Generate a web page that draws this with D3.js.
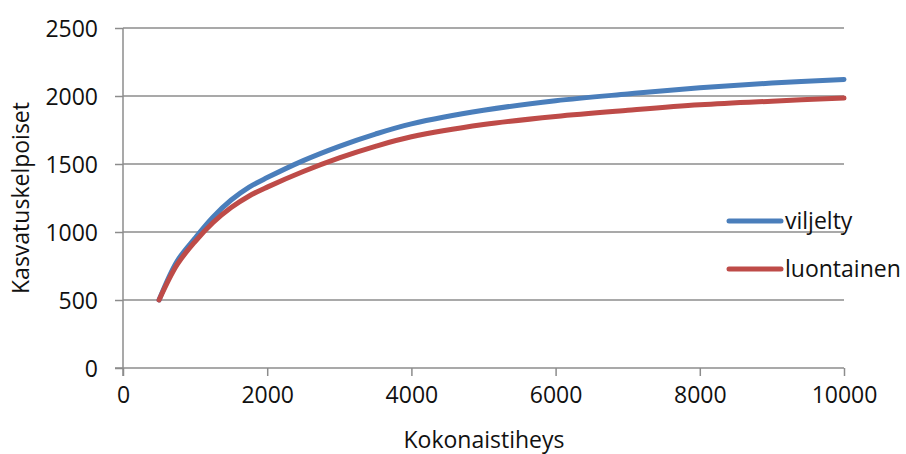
<!DOCTYPE html>
<html><head><meta charset="utf-8">
<script src="https://cdn.jsdelivr.net/npm/d3@7"></script>
<style>
html,body{margin:0;padding:0;background:#fff;}
text{font-family:"Open Sans","Noto Sans",sans-serif;fill:#111;}
</style></head>
<body><svg id="c" width="906" height="454"></svg>
<script>
const xValues = [500, 750, 1000, 1250, 1500, 1750, 2000, 2500, 3000, 3500, 4000, 5000, 6000, 7000, 8000, 9000, 10000];
const viljelty = [500, 785, 955, 1110, 1235, 1330, 1400, 1525, 1630, 1720, 1795, 1895, 1965, 2015, 2060, 2095, 2122];
const luontainen = [500, 760, 930, 1070, 1180, 1265, 1330, 1445, 1545, 1630, 1700, 1790, 1850, 1895, 1935, 1962, 1985];
const seriesNames = ["viljelty", "luontainen"];
const seriesColors = ["#4A7EBB", "#BE4B48"];
const xTicks = [0, 2000, 4000, 6000, 8000, 10000];
const yTicks = [0, 500, 1000, 1500, 2000, 2500];
const xTitle = "Kokonaistiheys";
const yTitle = "Kasvatuskelpoiset";

const svg = d3.select("#c");
const x = d3.scaleLinear().domain([0, 10000]).range([123, 844]);
const y = d3.scaleLinear().domain([0, 2500]).range([368, 28]);
const grid = "#8c8c8c";

// gridlines
svg.append("g").selectAll("line").data(yTicks.filter(d => d > 0)).join("line")
  .attr("x1", x(0)).attr("x2", x(10000))
  .attr("y1", d => y(d)).attr("y2", d => y(d))
  .attr("stroke", grid).attr("stroke-width", 1.5);

// y axis
const yAxis = svg.append("g").attr("transform", `translate(${x(0)},0)`)
  .call(d3.axisLeft(y).tickValues(yTicks).tickSize(8).tickPadding(17).tickFormat(d3.format("d")));
yAxis.select(".domain").attr("stroke", grid).attr("stroke-width", 1.5).attr("d", `M0,${y(2500)}V${y(0)+8}`);
yAxis.selectAll(".tick line").attr("stroke", grid).attr("stroke-width", 1.5);
yAxis.selectAll("text").style("font-size", "23px").attr("fill", "#111").attr("dy", "0.36em");

// x axis
const xAxis = svg.append("g").attr("transform", `translate(0,${y(0)})`)
  .call(d3.axisBottom(x).tickValues(xTicks).tickSize(8).tickPadding(11).tickFormat(d3.format("d")));
xAxis.select(".domain").attr("stroke", grid).attr("stroke-width", 1.5).attr("d", `M${x(0)-8},0H${x(10000)}`);
xAxis.selectAll(".tick line").attr("stroke", grid).attr("stroke-width", 1.5);
xAxis.selectAll("text").style("font-size", "23px").attr("fill", "#111");

// titles
svg.append("text").attr("x", 484).attr("y", 448).attr("text-anchor", "middle")
  .style("font-size", "23px").text(xTitle);
svg.append("text").attr("transform", "translate(29,198) rotate(-90)").attr("text-anchor", "middle")
  .style("font-size", "23px").text(yTitle);

// lines
const line = d3.line().x((d, i) => x(xValues[i])).y(d => y(d)).curve(d3.curveCatmullRom.alpha(0.5));
[viljelty, luontainen].forEach((s, i) => {
  svg.append("path").datum(s).attr("d", line).attr("fill", "none")
    .attr("stroke", seriesColors[i]).attr("stroke-width", 5).attr("stroke-linecap", "round").attr("stroke-linejoin", "round");
});

// legend
const ly = [221, 269];
seriesNames.forEach((n, i) => {
  svg.append("line").attr("x1", 729).attr("x2", 781).attr("y1", ly[i]).attr("y2", ly[i])
    .attr("stroke", seriesColors[i]).attr("stroke-width", 5).attr("stroke-linecap", "round");
  svg.append("text").attr("x", 785).attr("y", ly[i] + 8).style("font-size", "23px").text(n);
});
</script></body></html>
